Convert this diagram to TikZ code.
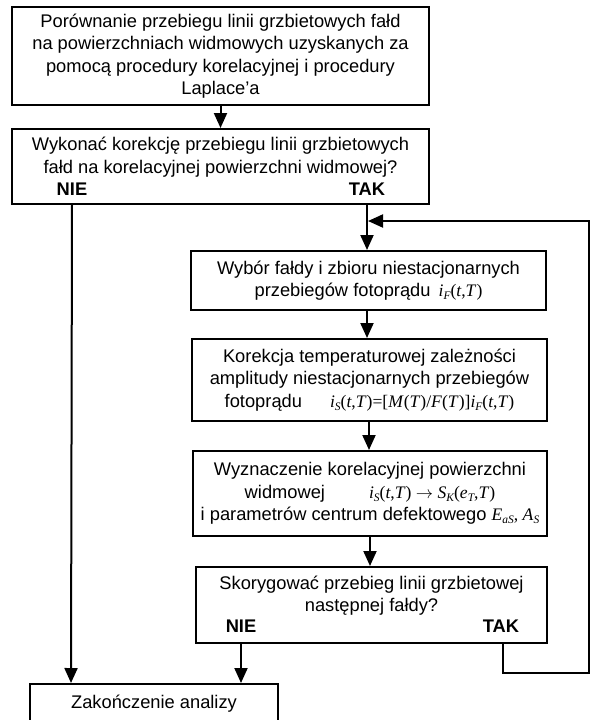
\documentclass[tikz,border=0pt]{standalone}
\usepackage{fontspec}
\setmainfont{Liberation Sans}
\newfontfamily\tms{Liberation Serif}
\usetikzlibrary{arrows.meta}
\newcommand{\fm}[1]{{\fontsize{17.6pt}{22.5pt}\selectfont\tms #1}}
\newcommand{\sbs}[1]{\raisebox{-0.35ex}{\fontsize{11.5pt}{11.5pt}\selectfont\tms\itshape #1}}
\begin{document}
\begin{tikzpicture}[x=1pt,y=-1pt,
  box/.style={draw, line width=2pt, align=center, inner sep=0pt,
    font=\fontsize{18.3pt}{22.5pt}\selectfont},
  lab/.style={font=\fontsize{18.3pt}{20pt}\selectfont\bfseries, inner sep=0pt},
  arr/.style={line width=2pt, -{Triangle[length=15pt,width=13pt]}},
  ln/.style={line width=2pt}]
\useasboundingbox (0,0) rectangle (590,720);
\clip (0,0) rectangle (590,720);

\node[box, minimum width=417pt, minimum height=98pt] (b1) at (220.5,56)
  {Porównanie przebiegu linii grzbietowych fałd\\
   na powierzchniach widmowych uzyskanych za\\
   pomocą procedury korelacyjnej i procedury\\
   Laplace’a};

\node[box, minimum width=417pt, minimum height=75pt] (b2) at (220.5,166.5)
  {Wykonać korekcję przebiegu linii grzbietowych\\
   fałd na korelacyjnej powierzchni widmowej?\\ \mbox{}};
\node[lab] (nie1) at (72,189) {NIE};
\node[lab] (tak1) at (367,189) {TAK};

\node[box, minimum width=355pt, minimum height=59pt] (b3) at (368.5,280.5)
  {Wybór fałdy i zbioru niestacjonarnych\\
   przebiegów fotoprądu\hspace{8pt}\fm{\textit{i}\sbs{F}(\textit{t},\textit{T})}};

\node[box, minimum width=355pt, minimum height=82pt] (b4) at (369.5,380)
  {Korekcja temperaturowej zależności\\
   amplitudy niestacjonarnych przebiegów\\
   fotoprądu\hspace{28pt}\fm{\textit{i}\sbs{S}(\textit{t},\textit{T})=[\textit{M}(\textit{T})/\textit{F}(\textit{T})]\textit{i}\sbs{F}(\textit{t},\textit{T})}};

\node[box, minimum width=354pt, minimum height=85pt] (b5) at (370,493.5)
  {Wyznaczenie korelacyjnej powierzchni\\
   widmowej\hspace{44pt}\fm{\textit{i}\sbs{S}(\textit{t},\textit{T}) $\rightarrow$ \textit{S}\sbs{K}(\textit{e}\sbs{T},\textit{T})}\\
   i parametrów centrum defektowego \fm{\textit{E}\sbs{aS}, \textit{A}\sbs{S}}};

\node[box, minimum width=351pt, minimum height=76pt] (b6) at (371.5,605)
  {Skorygować przebieg linii grzbietowej\\
   następnej fałdy?\\ \mbox{}};
\node[lab] (nie2) at (241,626) {NIE};
\node[lab] (tak2) at (501,626) {TAK};

\node[box, minimum width=248pt, anchor=north, text height=24pt, text depth=36pt] (end) at (154,683)
  {Zakończenie analizy};

\coordinate (c1) at (589,673);
\coordinate (c2) at (589,221);

\draw[arr] (b1.south) -- (b2.north);
\draw[arr] (b2.south -| nie1) -- ([xshift=-1pt]end.north -| nie1);
\draw[arr] (b2.south -| tak1) -- (b3.north -| tak1);
\draw[arr] (b3.south -| tak1) -- (b4.north -| tak1);
\draw[arr] ([xshift=2pt]b4.south -| tak1) -- ([xshift=2pt]b5.north -| tak1);
\draw[arr] ([xshift=3pt]b5.south -| tak1) -- ([xshift=3pt]b6.north -| tak1);
\draw[arr] (b6.south -| nie2) -- (end.north -| nie2);
\draw[arr] ([xshift=2pt]b6.south -| tak2) |- (c1) -- (c2) -- ([xshift=1pt]c2 -| tak1);
\end{tikzpicture}
\end{document}
